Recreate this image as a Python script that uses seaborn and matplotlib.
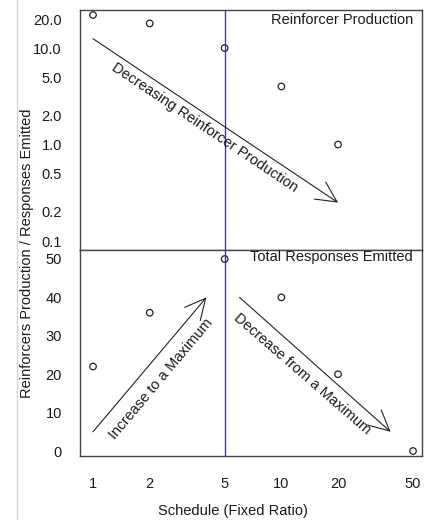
import matplotlib
matplotlib.use("Agg")
import matplotlib.pyplot as plt
import matplotlib.lines as mlines
import seaborn as sns
import pandas as pd

# data
schedule = [1, 2, 5, 10, 20, 50]
responses = [22, 36, 50, 40, 20, 0]
reinforcers = [22, 18, 10, 4, 1, 0]

x_ticks = [1, 2, 5, 10, 20, 50]
top_ticks = [0.1, 0.2, 0.5, 1.0, 2.0, 5.0, 10.0, 20.0]
bottom_ticks = [0, 10, 20, 30, 40, 50]

# arrow annotations: (start, end), label, label position, label angle
top_arrow = ((1, 12.5), (20, 0.25))
top_label = ("Decreasing Reinforcer Production", (3.9, 1.5), -33.8)
up_arrow = ((1, 5), (4, 40))
up_label = ("Increase to a Maximum", (2.3, 18.7), 50)
down_arrow = ((6, 40), (38, 5))
down_label = ("Decrease from a Maximum", (12.9, 20), -41)


def main():
    sns.set_style("white")
    plt.rcParams["font.family"] = ["Liberation Sans", "DejaVu Sans"]
    plt.rcParams["font.size"] = 10.5

    df = pd.DataFrame({"schedule": schedule, "responses": responses,
                       "reinforcers": reinforcers})
    df_top = df[df["reinforcers"] > 0]

    W, H = 428, 520
    fig = plt.figure(figsize=(W / 100, H / 100), dpi=100)
    ax1 = fig.add_axes([80 / W, (H - 250) / H, 342 / W, 240 / H])
    ax2 = fig.add_axes([80 / W, (H - 456) / H, 342 / W, 206 / H])

    marker_kw = dict(marker="o", s=22, facecolor="none", edgecolor="#222222",
                     linewidth=0.9, zorder=3)
    sns.scatterplot(data=df_top, x="schedule", y="reinforcers", ax=ax1, **marker_kw)
    sns.scatterplot(data=df, x="schedule", y="responses", ax=ax2, **marker_kw)

    for ax in (ax1, ax2):
        ax.set_xscale("log")
        ax.set_xlim(0.853, 55.8)
        ax.set_xticks(x_ticks)
        ax.set_xticks([], minor=True)
        ax.axvline(5, color="#3030ff", lw=1, zorder=2)
        ax.set_xlabel("")
        ax.set_ylabel("")
        for s in ax.spines.values():
            s.set_color("#444444")
            s.set_linewidth(1)
        ax.tick_params(direction="in", length=3, width=0.8, color="#444444",
                       labelsize=10.5, labelcolor="#1a1a1a")

    ax1.set_yscale("log")
    ax1.set_ylim(0.0807, 24.8)
    ax1.set_yticks(top_ticks)
    ax1.set_yticks([], minor=True)
    ax1.set_yticklabels([f"{v:.1f}" for v in top_ticks])
    ax1.tick_params(axis="y", pad=13)
    ax1.tick_params(axis="x", labelbottom=False)

    ax2.set_ylim(-1.3, 52.34)
    ax2.set_yticks(bottom_ticks)
    ax2.set_yticklabels([str(v) for v in bottom_ticks])
    ax2.tick_params(axis="y", pad=13)
    ax2.set_xticklabels([str(v) for v in x_ticks])
    ax2.tick_params(axis="x", pad=15)

    arrow_kw = dict(arrowstyle="->,head_length=1.4,head_width=0.7",
                    color="#222222", lw=0.8, shrinkA=0, shrinkB=0)
    for ax, (start, end), (txt, pos, ang) in [
        (ax1, top_arrow, top_label),
        (ax2, up_arrow, up_label),
        (ax2, down_arrow, down_label),
    ]:
        ax.annotate("", xy=end, xytext=start, arrowprops=arrow_kw)
        ax.text(pos[0], pos[1], txt, rotation=ang, rotation_mode="anchor",
                ha="center", va="center", fontsize=10.5, color="#1a1a1a")

    ax1.text(0.974, 0.958, "Reinforcer Production", transform=ax1.transAxes,
             ha="right", va="center", fontsize=10.5, color="#1a1a1a")
    ax2.text(0.974, 0.966, "Total Responses Emitted", transform=ax2.transAxes,
             ha="right", va="center", fontsize=10.5, color="#1a1a1a")

    fig.text(233 / W, (H - 511) / H, "Schedule (Fixed Ratio)",
             ha="center", va="center", fontsize=10.5, color="#1a1a1a")
    fig.text(27 / W, (H - 253) / H, "Reinforcers Production / Responses Emitted",
             rotation=90, ha="center", va="center", fontsize=10.5, color="#1a1a1a")

    # faint frame line at the left edge of the original screenshot
    fig.add_artist(mlines.Line2D([17 / W, 17 / W], [0, 1], color="#d4d4d4",
                                 lw=1, transform=fig.transFigure))

    fig.savefig("out.png", dpi=100)


if __name__ == "__main__":
    main()
